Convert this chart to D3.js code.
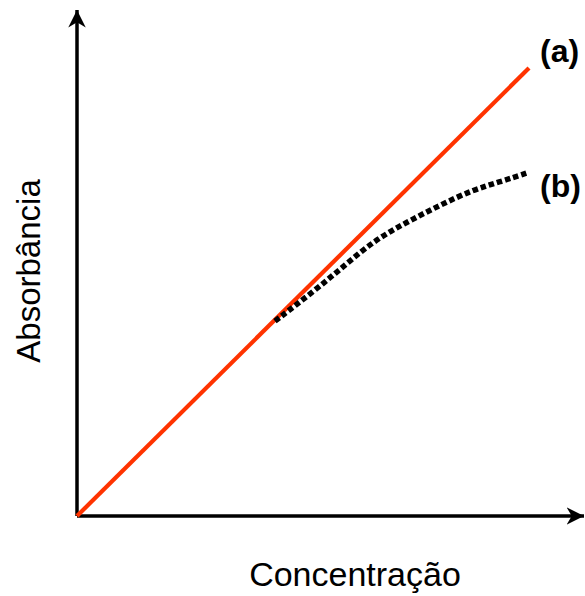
<!DOCTYPE html>
<html>
<head>
<meta charset="utf-8">
<script src="https://cdn.jsdelivr.net/npm/d3@7"></script>
<style>
  html, body { margin: 0; padding: 0; background: #fff; }
  svg { display: block; }
  text { font-family: "Liberation Sans", Arial, sans-serif; }
</style>
</head>
<body>
<script>
// Ideal Beer-Lambert response (a) and the deviation at high concentration (b)
const linearSeries = [[0, 0], [10, 10]];
const deviationSeries = [
  [4.38, 4.35], [5.27, 5.04], [5.93, 5.60], [6.59, 6.16], [7.30, 6.56],
  [8.03, 6.94], [8.76, 7.28], [9.36, 7.46], [9.96, 7.66]
];
const seriesLabels = ["(a)", "(b)"];
const xTitle = "Concentração";
const yTitle = "Absorbância";

const W = 585, H = 596;
const svg = d3.select("body").append("svg").attr("width", W).attr("height", H);

const x = d3.scaleLinear().domain([0, 10]).range([77, 529]);
const y = d3.scaleLinear().domain([0, 10]).range([516, 68]);

const defs = svg.append("defs");
defs.append("marker")
  .attr("id", "arrow")
  .attr("viewBox", "0 0 10 10")
  .attr("refX", 10).attr("refY", 5)
  .attr("markerWidth", 5).attr("markerHeight", 5)
  .attr("markerUnits", "strokeWidth")
  .attr("orient", "auto")
  .append("path")
  .attr("d", "M0,0 L10,5 L0,10 L3,5 Z")
  .attr("fill", "#000");

// axes with arrow heads
svg.append("line")
  .attr("x1", x(0)).attr("y1", y(0)).attr("x2", 584).attr("y2", y(0))
  .attr("stroke", "#000").attr("stroke-width", 3.5)
  .attr("marker-end", "url(#arrow)");
svg.append("line")
  .attr("x1", x(0)).attr("y1", y(0)).attr("x2", x(0)).attr("y2", 10)
  .attr("stroke", "#000").attr("stroke-width", 3.5)
  .attr("marker-end", "url(#arrow)");

const line = d3.line().x(d => x(d[0])).y(d => y(d[1]));

svg.append("path")
  .datum(linearSeries)
  .attr("d", line)
  .attr("fill", "none")
  .attr("stroke", "#ff3300")
  .attr("stroke-width", 4.2);

svg.append("path")
  .datum(deviationSeries)
  .attr("d", line.curve(d3.curveBasis))
  .attr("fill", "none")
  .attr("stroke", "#000")
  .attr("stroke-width", 5.5)
  .attr("stroke-dasharray", "5.5,3");

// series labels
svg.append("text").attr("x", 540).attr("y", 62)
  .attr("font-size", 32).attr("font-weight", "bold").text(seriesLabels[0]);
svg.append("text").attr("x", 540).attr("y", 197)
  .attr("font-size", 32).attr("font-weight", "bold").text(seriesLabels[1]);

// axis titles
svg.append("text").attr("x", 355).attr("y", 586)
  .attr("text-anchor", "middle").attr("font-size", 34).text(xTitle);
svg.append("text")
  .attr("transform", "translate(40,271) rotate(-90)")
  .attr("text-anchor", "middle").attr("font-size", 33).text(yTitle);
</script>
</body>
</html>
